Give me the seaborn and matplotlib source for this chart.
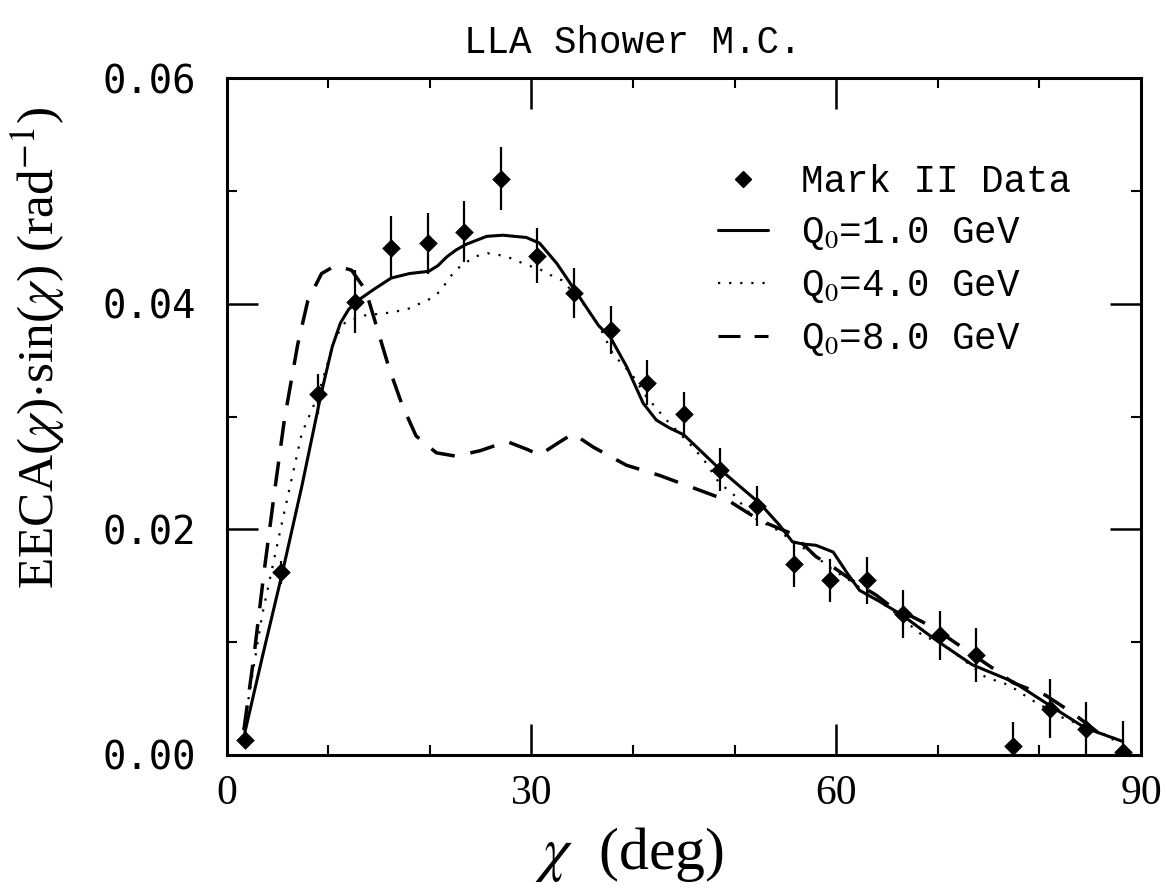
import matplotlib
matplotlib.use("Agg")
import matplotlib.pyplot as plt
import seaborn as sns
import pandas as pd
from matplotlib.lines import Line2D
from matplotlib.ticker import MultipleLocator, FormatStrFormatter

# ---------------- data ----------------
chi_data = [1.8, 5.4, 9.0, 12.6, 16.2, 19.8, 23.4, 27.0, 30.6, 34.2, 37.8, 41.4, 45.0,
            48.6, 52.2, 55.8, 59.4, 63.0, 66.6, 70.2, 73.8, 77.4, 81.0, 84.6, 88.2]
eeca_data = [0.0013, 0.0162, 0.0320, 0.0402, 0.0450, 0.0454, 0.0464, 0.0511, 0.0443,
             0.0410, 0.0377, 0.0330, 0.0302, 0.0253, 0.0221, 0.0169, 0.0155, 0.0155,
             0.0125, 0.0106, 0.0089, 0.0008, 0.0041, 0.0023, 0.0003]
eeca_err = [0.0, 0.0010, 0.0018, 0.0028, 0.0028, 0.0027, 0.0027, 0.0028, 0.0024,
            0.0022, 0.0021, 0.0020, 0.0020, 0.0019, 0.0018, 0.0020, 0.0019, 0.0021,
            0.0021, 0.0022, 0.0024, 0.0021, 0.0026, 0.0024, 0.0027]

chi_q1 = [1.8, 3.6, 5.5, 7.4, 9.3, 10.4, 11.2, 12.0, 12.9, 14.5, 16.2, 18.0, 19.9, 20.8,
          21.7, 22.6, 23.6, 25.6, 27.2, 29.5, 30.8, 32.5, 34.3, 36.6, 37.8, 39.4, 41.0,
          42.3, 43.6, 45.0, 48.6, 52.5, 54.4, 55.7, 56.8, 58.0, 59.7, 61.1, 62.3, 64.3,
          66.5, 69.8, 73.4, 77.4, 81.0, 84.5, 88.2]
eeca_q1 = [0.0020, 0.0090, 0.0162, 0.0238, 0.0320, 0.0362, 0.0383, 0.0395, 0.0403, 0.0413,
           0.0423, 0.0427, 0.0429, 0.0434, 0.0442, 0.0448, 0.0453, 0.0460, 0.0461, 0.0459,
           0.0454, 0.0436, 0.0412, 0.0381, 0.0370, 0.0344, 0.0312, 0.0297, 0.0290, 0.0284,
           0.0253, 0.0223, 0.0204, 0.0189, 0.0187, 0.0186, 0.0180, 0.0161, 0.0146, 0.0136,
           0.0124, 0.0102, 0.0080, 0.0065, 0.0044, 0.0024, 0.0012]

chi_q4 = [1.8, 3.5, 5.5, 7.4, 9.0, 10.7, 11.7, 14.0, 15.1, 17.7, 19.9, 21.0, 21.7, 22.5,
          24.4, 25.7, 27.1, 28.2, 29.4, 30.8, 31.8, 33.0, 34.8, 36.7, 38.0, 40.0, 41.3,
          43.3, 45.9, 47.2, 48.5, 49.8, 51.8, 54.1, 58.0, 59.7, 61.3, 65.4, 68.5, 70.6,
          74.7, 77.0, 79.2, 82.3, 85.9, 88.0]
eeca_q4 = [0.0030, 0.0124, 0.0208, 0.0285, 0.0319, 0.0370, 0.0384, 0.0391, 0.0391, 0.0395,
           0.0404, 0.0411, 0.0420, 0.0430, 0.0442, 0.0445, 0.0443, 0.0440, 0.0435, 0.0431,
           0.0426, 0.0421, 0.0404, 0.0380, 0.0356, 0.0336, 0.0318, 0.0297, 0.0273, 0.0259,
           0.0241, 0.0232, 0.0211, 0.0200, 0.0176, 0.0164, 0.0155, 0.0129, 0.0106, 0.0098,
           0.0069, 0.0062, 0.0049, 0.0033, 0.0020, 0.0013]

chi_q8 = [1.7, 2.7, 3.7, 4.7, 5.7, 7.0, 8.0, 9.35, 10.7, 12.3, 13.7, 14.7, 16.0, 17.3,
          18.65, 20.65, 22.6, 25.0, 27.6, 29.6, 30.8, 32.5, 34.1, 36.1, 39.35, 42.6, 45.9,
          49.5, 52.5, 55.7, 58.0, 59.8, 62.0, 63.9, 65.2, 68.5, 70.2, 72.3, 75.4, 77.4,
          80.6, 83.3, 85.9, 87.3]
eeca_q8 = [0.0022, 0.0088, 0.0163, 0.0232, 0.0298, 0.0364, 0.0403, 0.0427, 0.0434, 0.0430,
           0.0412, 0.0382, 0.0343, 0.0310, 0.0283, 0.0268, 0.0265, 0.0270, 0.0278, 0.0271,
           0.0266, 0.0276, 0.0285, 0.0273, 0.0257, 0.0248, 0.0237, 0.0225, 0.0208, 0.0196,
           0.0176, 0.0166, 0.0152, 0.0142, 0.0133, 0.0118, 0.0109, 0.0096, 0.0077, 0.0064,
           0.0053, 0.0037, 0.0019, 0.0014]

legend_labels = ["Mark II Data", r"Q$_\mathrm{0}$=1.0 GeV", r"Q$_\mathrm{0}$=4.0 GeV",
                 r"Q$_\mathrm{0}$=8.0 GeV"]
title_text = "LLA Shower M.C."
xlabel_text = r"$\chi$  (deg)"
ylabel_text = r"EECA($\chi$)$\cdot$sin($\chi$) (rad$^{-1}$)"
x_ticks = [0, 30, 60, 90]
y_ticks = [0.00, 0.02, 0.04, 0.06]

# ---------------- styling ----------------
sns.set_theme(style="ticks")
plt.rcParams["font.family"] = ["Liberation Serif", "DejaVu Serif"]
plt.rcParams["mathtext.fontset"] = "stix"

fig = plt.figure(figsize=(11.66, 8.88), dpi=100)
fig.patch.set_facecolor("white")
ax = fig.add_axes([0.1943, 0.1498, 0.7843, 0.7618])
ax.set_facecolor("white")

SOLID = "-"
DOT = (0, (1.0, 4.0))
DASH = (0, (7.2, 4.6))

df1 = pd.DataFrame({"chi": chi_q1, "v": eeca_q1})
df4 = pd.DataFrame({"chi": chi_q4, "v": eeca_q4})
df8 = pd.DataFrame({"chi": chi_q8, "v": eeca_q8})
sns.lineplot(data=df1, x="chi", y="v", ax=ax, color="black", linewidth=2.2, sort=False)
sns.lineplot(data=df4, x="chi", y="v", ax=ax, color="black", linewidth=1.6, sort=False)
sns.lineplot(data=df8, x="chi", y="v", ax=ax, color="black", linewidth=2.5, sort=False)
lines = ax.get_lines()
lines[0].set_linestyle(SOLID)
lines[1].set_linestyle(DOT)
lines[2].set_linestyle(DASH)

ax.errorbar(chi_data, eeca_data, yerr=eeca_err, fmt="none", ecolor="black",
            elinewidth=1.6, capsize=0, zorder=4)
sns.scatterplot(x=chi_data, y=eeca_data, ax=ax, marker="D", s=90, color="black",
                edgecolor="black", linewidth=0, zorder=5)

ax.set_xlim(0, 90)
ax.set_ylim(0, 0.06)
ax.set_xticks(x_ticks)
ax.set_yticks(y_ticks)
ax.xaxis.set_minor_locator(MultipleLocator(10))
ax.yaxis.set_minor_locator(MultipleLocator(0.01))
ax.yaxis.set_major_formatter(FormatStrFormatter("%.2f"))
ax.set_xlabel("")
ax.set_ylabel("")

for s in ax.spines.values():
    s.set_visible(True)
    s.set_linewidth(2.2)
    s.set_color("black")

ax.tick_params(which="both", direction="in", top=True, right=True, colors="black")
ax.tick_params(which="major", length=22, width=1.8)
ax.tick_params(which="minor", length=7, width=1.5)
ax.tick_params(axis="x", which="major", pad=14, labelsize=30)
ax.tick_params(axis="y", which="major", pad=22, labelsize=28)
for lab in ax.get_yticklabels():
    lab.set_fontfamily(["DejaVu Sans Mono"])
for lab in ax.get_xticklabels():
    lab.set_fontfamily(["Liberation Serif", "DejaVu Serif"])

fig.text(0.543, 0.952, title_text, ha="center", va="center", fontsize=27,
         family=["Liberation Mono", "DejaVu Sans Mono"], color="black")
fig.text(0.54, 0.038, xlabel_text, ha="center", va="center", fontsize=43,
         family=["Liberation Serif", "DejaVu Serif"], color="black")
fig.text(0.032, 0.608, ylabel_text, ha="center", va="center", rotation=90, fontsize=37,
         family=["Liberation Serif", "DejaVu Serif"], color="black")

handles = [
    Line2D([], [], linestyle="none", marker="D", markersize=8, color="black"),
    Line2D([], [], linestyle=SOLID, linewidth=2.2, color="black"),
    Line2D([], [], linestyle=DOT, linewidth=1.6, color="black"),
    Line2D([], [], linestyle=DASH, linewidth=2.2, color="black"),
]
leg = ax.legend(handles, legend_labels, loc="upper left", bbox_to_anchor=(0.537, 0.874),
                frameon=False, borderaxespad=0, borderpad=0, handlelength=1.33,
                handletextpad=0.9, labelspacing=0.42,
                prop={"family": ["Liberation Mono", "DejaVu Sans Mono"], "size": 27})
for t in leg.get_texts():
    t.set_color("black")

fig.savefig("out.png", dpi=100, facecolor="white")
